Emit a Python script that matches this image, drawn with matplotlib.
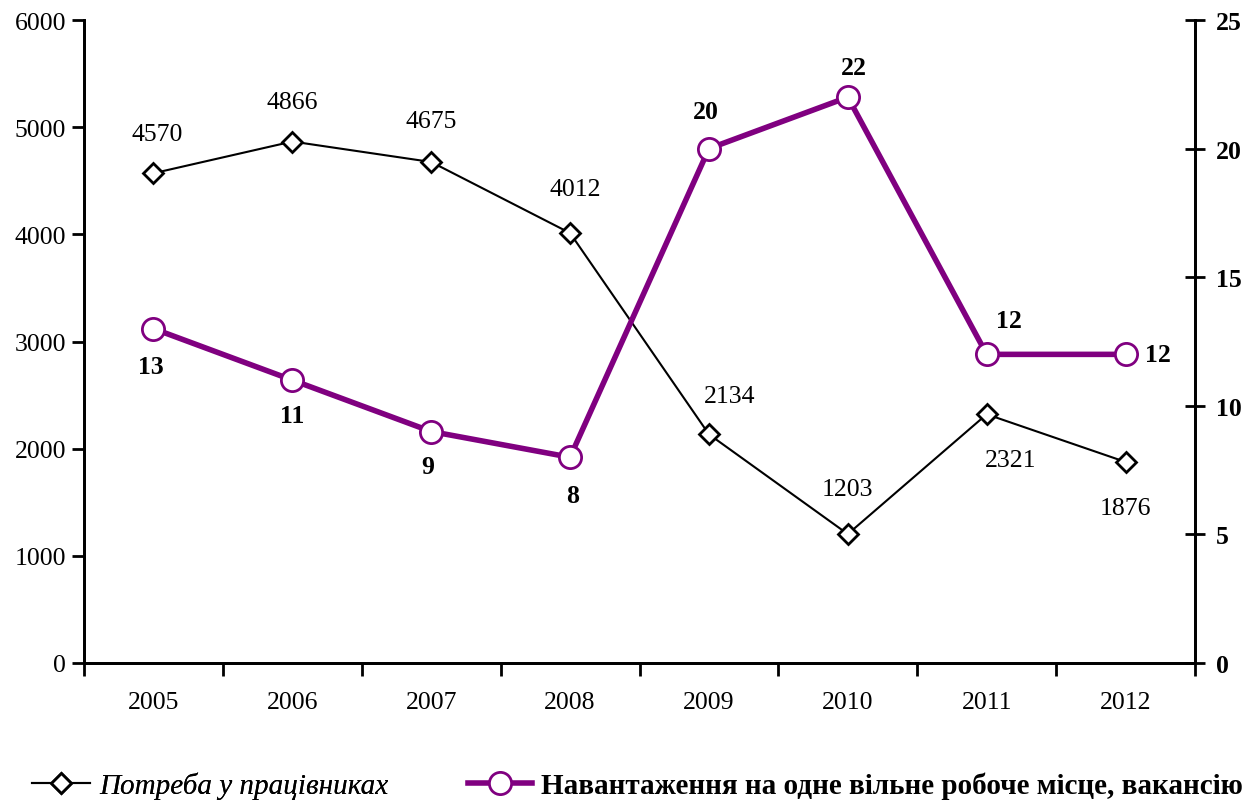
import matplotlib
matplotlib.use("Agg")
import matplotlib.pyplot as plt

years = ["2005", "2006", "2007", "2008", "2009", "2010", "2011", "2012"]
demand = [4570, 4866, 4675, 4012, 2134, 1203, 2321, 1876]
load = [13, 11, 9, 8, 20, 22, 12, 12]
left_ticks = [0, 1000, 2000, 3000, 4000, 5000, 6000]
right_ticks = [0, 5, 10, 15, 20, 25]
label_demand = "Потреба у працівниках"
label_load = "Навантаження на одне вільне робоче місце, вакансію"

# label offsets in pixels (style only)
off_demand = [(4, 39), (0, 40), (0, 41), (5, 44), (21, 38), (0, 45), (24, -46), (0, -46)]
off_load = [(-3, -38), (0, -35), (-3, -35), (3, -38), (-3, 37), (6, 30), (22, 34), (32, 0)]

plt.rcParams['font.family'] = ['Liberation Serif', 'DejaVu Serif']
FS = 18.5
LFS = 21
purple = '#800080'

fig = plt.figure(figsize=(12.54, 8.03), dpi=100)
ax = fig.add_axes([84/1254, 1-664/803, (1195-84)/1254, (664-21)/803])
ax2 = ax.twinx()

x = list(range(len(years)))
l1, = ax.plot(x, demand, color='black', lw=1.5, marker='D', ms=10, mfc='white',
              mec='black', mew=2, zorder=3, label=label_demand)
l2, = ax2.plot(x, load, color=purple, lw=4, marker='o', ms=16, mfc='white',
               mec=purple, mew=2, zorder=3, label=label_load)

ax.set_xlim(-0.5, len(years) - 0.5)
ax.set_ylim(0, 6000)
ax2.set_ylim(0, 25)
ax.set_yticks(left_ticks)
ax.set_yticklabels([str(t) for t in left_ticks], fontsize=FS)
ax2.set_yticks(right_ticks)
ax2.set_yticklabels([str(t) for t in right_ticks], fontsize=FS, fontweight='bold')

ax.set_xticks([i + 0.5 for i in range(-1, len(years))])
ax.set_xticklabels([])
ax.set_xticks(x, minor=True)
ax.set_xticklabels(years, minor=True, fontsize=FS)
ax.tick_params(axis='x', which='major', direction='out', length=9, width=2)
ax.tick_params(axis='x', which='minor', length=0, pad=20)
ax.tick_params(axis='y', direction='out', length=9, width=2, pad=4)
ax2.tick_params(axis='y', direction='inout', length=14, width=2, pad=8)

for a in (ax, ax2):
    a.spines['top'].set_visible(False)
    for s in ('left', 'right', 'bottom'):
        a.spines[s].set_linewidth(2)

for i, v in enumerate(demand):
    ax.annotate(str(v), (i, v), xytext=off_demand[i], textcoords='offset pixels',
                ha='center', va='center', fontsize=FS)
for i, v in enumerate(load):
    ax2.annotate(str(v), (i, v), xytext=off_load[i], textcoords='offset pixels',
                 ha='center', va='center', fontsize=FS, fontweight='bold')

leg1 = fig.legend(handles=[l1], loc='center left', bbox_to_anchor=(32/1254, 1-786/803),
                  frameon=False, prop={'size': LFS, 'style': 'italic'},
                  handlelength=2.0, handletextpad=0.3, borderaxespad=0, borderpad=0)
leg2 = fig.legend(handles=[l2], loc='center left', bbox_to_anchor=(468/1254, 1-786/803),
                  frameon=False, prop={'size': LFS, 'weight': 'bold'},
                  handlelength=2.2, handletextpad=0.3, borderaxespad=0, borderpad=0)
fig.add_artist(leg1)

fig.savefig('out.png', dpi=100)
